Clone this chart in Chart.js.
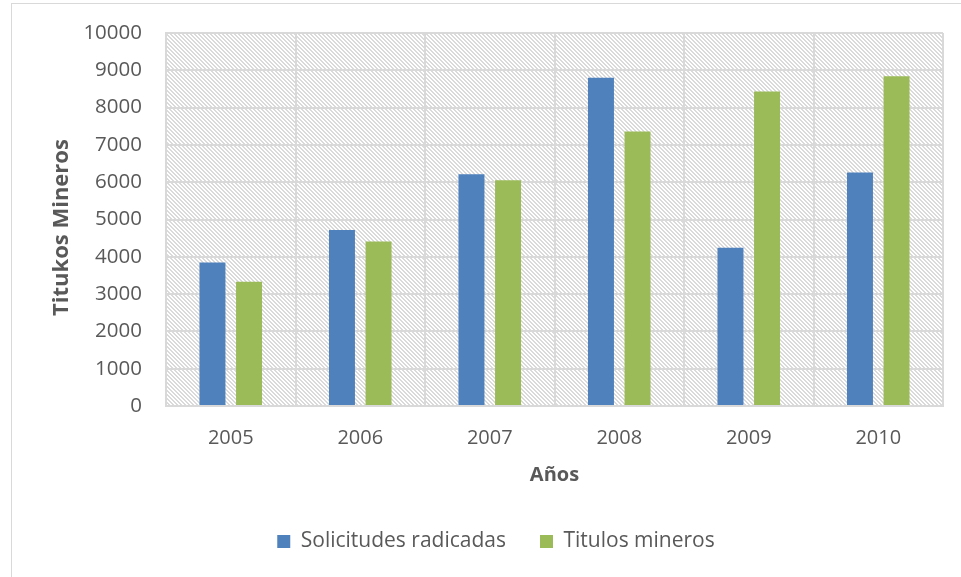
<!DOCTYPE html>
<html>
<head>
<meta charset="utf-8">
<script src="https://cdn.jsdelivr.net/npm/chart.js@4/dist/chart.umd.min.js"></script>
<style>
  html, body { margin: 0; padding: 0; background: #ffffff; }
  #wrap { width: 961px; height: 577px; }
</style>
</head>
<body>
<div id="wrap"><canvas id="grafico" width="961" height="577"></canvas></div>
<script>
const anios = ["2005", "2006", "2007", "2008", "2009", "2010"];
const solicitudesRadicadas = [3850, 4720, 6210, 8800, 4240, 6260];
const titulosMineros = [3330, 4410, 6050, 7360, 8430, 8840];
const ticksY = [0, 1000, 2000, 3000, 4000, 5000, 6000, 7000, 8000, 9000, 10000];
const tituloY = "Titukos Mineros";

const FUENTE = "'Open Sans', sans-serif";
const GRIS = "#595959";

function patronRayado(ctx) {
    const tile = document.createElement("canvas");
    tile.width = 4;
    tile.height = 4;
    const t = tile.getContext("2d");
    t.fillStyle = "#ffffff";
    t.fillRect(0, 0, 4, 4);
    t.fillStyle = "#dadada";
    for (let i = 0; i < 4; i++) {
        t.fillRect(i, i, 1, 1);
        t.fillRect((i + 1) % 4, i, 1, 1);
    }
    return ctx.createPattern(tile, "repeat");
}

// fondo rayado del area del grafico, borde exterior y titulo del eje Y
const fondoRayado = {
    id: "fondoRayado",
    beforeDraw(chart) {
        const { ctx, chartArea } = chart;
        ctx.save();
        ctx.strokeStyle = "#d9d9d9";
        ctx.lineWidth = 1;
        ctx.strokeRect(11.5, 3.5, 980, 600);
        ctx.fillStyle = patronRayado(ctx);
        ctx.fillRect(chartArea.left, chartArea.top, chartArea.right - chartArea.left, chartArea.bottom - chartArea.top);
        ctx.restore();
    },
    afterDraw(chart) {
        const { ctx, chartArea } = chart;
        ctx.save();
        ctx.translate(chartArea.left - 104, (chartArea.top + chartArea.bottom) / 2 + 8);
        ctx.rotate(-Math.PI / 2);
        ctx.font = `bold 22px ${FUENTE}`;
        ctx.fillStyle = GRIS;
        ctx.textAlign = "center";
        ctx.textBaseline = "middle";
        ctx.fillText(tituloY, 0, 0);
        ctx.restore();
    }
};

new Chart(document.getElementById("grafico"), {
    type: "bar",
    plugins: [fondoRayado],
    data: {
        labels: anios,
        datasets: [
            { label: "Solicitudes radicadas", data: solicitudesRadicadas, backgroundColor: "#4f81bd", categoryPercentage: 0.565, barPercentage: 0.71 },
            { label: "Titulos mineros", data: titulosMineros, backgroundColor: "#9bbb59", categoryPercentage: 0.565, barPercentage: 0.71 }
        ]
    },
    options: {
        responsive: false,
        animation: false,
        layout: { padding: { left: 49, right: 18, top: 33, bottom: 15 } },
        plugins: {
            legend: {
                position: "bottom",
                labels: {
                    color: GRIS,
                    font: { family: FUENTE, size: 21 },
                    boxWidth: 13,
                    boxHeight: 13,
                    padding: 34
                }
            },
            tooltip: { enabled: false }
        },
        scales: {
            x: {
                grid: { color: "#d9d9d9", lineWidth: 2, drawTicks: false, offset: true },
                border: { color: "#d9d9d9", width: 2 },
                ticks: { color: GRIS, font: { family: FUENTE, size: 20, lineHeight: 1 }, padding: 22 },
                title: { display: true, text: "Años", color: GRIS, font: { family: FUENTE, size: 20, weight: "bold", lineHeight: 1 }, padding: { top: -5, bottom: 12 } }
            },
            y: {
                min: 0,
                max: 10000,
                afterBuildTicks(scale) { scale.ticks = ticksY.map((v) => ({ value: v })); },
                afterFit(scale) { scale.width = 117; scale.paddingTop = 0; },
                grid: { color: "#d9d9d9", lineWidth: 2, drawTicks: false },
                border: { color: "#d9d9d9", width: 2 },
                ticks: { color: GRIS, font: { family: FUENTE, size: 20.5 }, padding: 24, callback: (v) => String(v) }
            }
        }
    }
});
</script>
</body>
</html>
